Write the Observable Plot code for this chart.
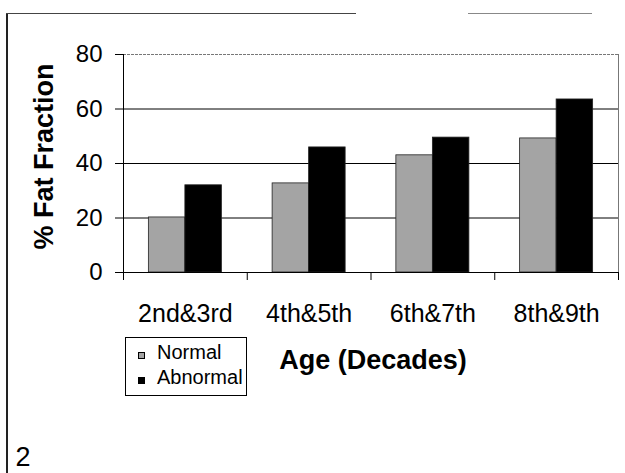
<!DOCTYPE html>
<html><head><meta charset="utf-8">
<script src="https://cdn.jsdelivr.net/npm/d3@7"></script>
<script src="https://cdn.jsdelivr.net/npm/@observablehq/plot@0.6"></script>
<style>
body{margin:0;background:#fff;}
#wrap{position:relative;width:625px;height:473px;overflow:hidden;font-family:"Liberation Sans",Arial,sans-serif;background:#fff;}
#wrap svg{position:absolute;left:0;top:0;}
.line{position:absolute;background:#222;}
#legend{position:absolute;left:125px;top:337px;width:120px;height:57px;border:1px solid #000;background:#fff;font-size:20px;color:#000;}
#legend .sw{position:absolute;left:12px;width:7px;height:7px;box-sizing:border-box;border:1px solid #000;}
#legend .lb{position:absolute;left:31px;line-height:20px;white-space:nowrap;}
</style></head><body><div id="wrap"></div>
<script>
const categories = ["2nd&3rd", "4th&5th", "6th&7th", "8th&9th"];
const normal = [20.2, 32.7, 43.0, 49.2];
const abnormal = [32.0, 45.9, 49.5, 63.5];
const series = ["Normal", "Abnormal"];
const yTicks = [0, 20, 40, 60, 80];
const yLabel = "% Fat Fraction";
const xLabel = "Age (Decades)";
const pageNumber = "2";

const fills = {Normal: "#a4a4a4", Abnormal: "#000000"};
const rows = categories.flatMap((c, i) => [
  {category: c, i, series: "Normal", value: normal[i]},
  {category: c, i, series: "Abnormal", value: abnormal[i]}
]);
const barStart = 0.205, barMid = 0.5, barEnd = 0.795;
const font = '"Liberation Sans", Arial, sans-serif';

const chart = Plot.plot({
  width: 625, height: 473,
  marginLeft: 123, marginRight: 7, marginTop: 54, marginBottom: 201,
  style: {fontFamily: font, fontSize: "24px", background: "transparent", color: "#000", overflow: "visible"},
  x: {type: "linear", domain: [0, categories.length]},
  y: {domain: [0, 80]},
  marks: [
    Plot.ruleY(yTicks.filter(t => t > 0 && t < 80), {stroke: "#000", strokeWidth: 1}),
    Plot.ruleY([80], {stroke: "#777", strokeWidth: 1, strokeDasharray: "3,1"}),
    Plot.ruleX([categories.length], {stroke: "#777", strokeWidth: 1}),
    Plot.rectY(rows, {
      x1: d => d.i + (d.series === "Normal" ? barStart : barMid),
      x2: d => d.i + (d.series === "Normal" ? barMid : barEnd),
      y1: 0, y2: "value",
      fill: d => fills[d.series], stroke: "#222", strokeWidth: 0.8
    }),
    Plot.ruleY([0], {stroke: "#000"}),
    Plot.ruleX([0], {stroke: "#000"}),
    Plot.axisY({ticks: yTicks, tickSize: 8, tickPadding: 13, fontSize: 24, label: null}),
    Plot.axisX({ticks: d3.range(categories.length + 1), tickSize: 8, tickFormat: () => "", label: null}),
    Plot.axisX({ticks: categories.map((c, i) => i + 0.5), tickSize: 0, tickPadding: 32,
      tickFormat: v => categories[Math.floor(v)], fontSize: 25, label: null}),
    Plot.text([yLabel], {frameAnchor: "left", textAnchor: "middle", lineAnchor: "middle", rotate: -90, dx: -79, dy: -7, fontWeight: "bold", fontSize: 27}),
    Plot.text([xLabel], {frameAnchor: "bottom", textAnchor: "middle", dx: 2, dy: 96, lineAnchor: "bottom", fontWeight: "bold", fontSize: 27}),
    Plot.text([pageNumber], {frameAnchor: "bottom-left", dx: -108, dy: 193, lineAnchor: "bottom", textAnchor: "start", fontSize: 27})
  ]
});

const wrap = document.getElementById("wrap");
wrap.appendChild(chart);

// page border fragments
[[6, 13, 1.5, 460, "#222"], [6, 13, 350, 1, "#444"], [468, 13, 124, 1, "#888"]].forEach(([l, t, w, h, c]) => {
  const d = document.createElement("div");
  d.className = "line";
  Object.assign(d.style, {left: l + "px", top: t + "px", width: w + "px", height: h + "px", background: c});
  wrap.appendChild(d);
});

// legend
const legend = document.createElement("div");
legend.id = "legend";
series.forEach((s, k) => {
  const sw = document.createElement("div");
  sw.className = "sw";
  sw.style.top = (14 + 25 * k) + "px";
  sw.style.background = fills[s];
  legend.appendChild(sw);
  const lb = document.createElement("div");
  lb.className = "lb";
  lb.style.top = (4 + 25 * k) + "px";
  lb.textContent = s;
  legend.appendChild(lb);
});
wrap.appendChild(legend);
</script>
</body></html>
